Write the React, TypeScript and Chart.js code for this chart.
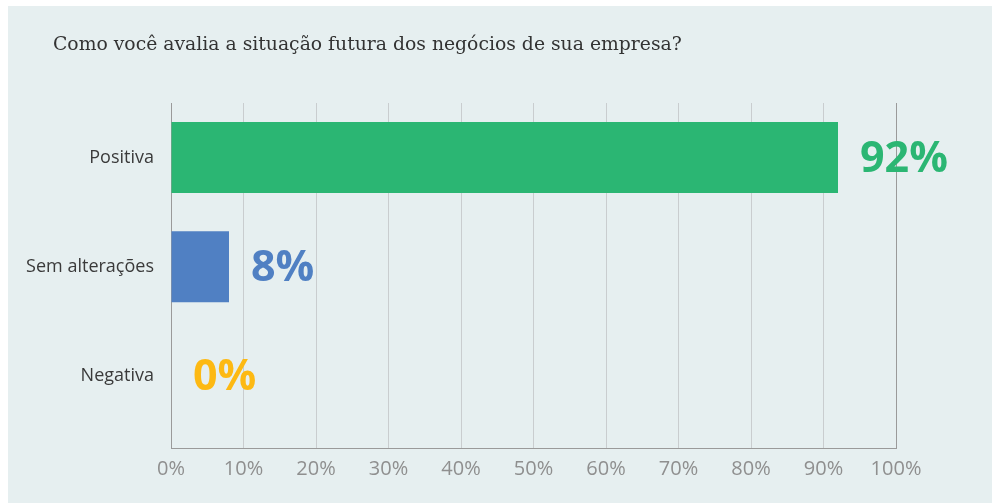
import { useEffect, useRef } from 'react';
import { Chart, registerables } from 'chart.js';

Chart.register(...registerables);

const titleText = 'Como você avalia a situação futura dos negócios de sua empresa?';
const categories = ['Positiva', 'Sem alterações', 'Negativa'];
const values = [92, 8, 0];
const barColors = ['#2bb673', '#5080c3', '#fdb913'];
const labelColors = ['#2bb673', '#5080c3', '#fdb913'];
const xMin = 0;
const xMax = 100;
const xStep = 10;

const valueLabels = {
  id: 'valueLabels',
  afterDatasetsDraw(chart: any) {
    const { ctx } = chart;
    const meta = chart.getDatasetMeta(0);
    ctx.save();
    ctx.font = 'bold 43px "Open Sans"';
    ctx.textAlign = 'left';
    ctx.textBaseline = 'middle';
    meta.data.forEach((bar: any, i: number) => {
      ctx.fillStyle = labelColors[i];
      ctx.fillText(values[i] + '%', bar.x + 22, bar.y + 2);
    });
    ctx.restore();
  },
};

const chartTitle = {
  id: 'chartTitle',
  afterDraw(chart: any) {
    const { ctx } = chart;
    ctx.save();
    ctx.font = '18.8px "DejaVu Serif"';
    ctx.fillStyle = '#333333';
    ctx.textAlign = 'left';
    ctx.textBaseline = 'middle';
    ctx.fillText(titleText, 45, 39);
    ctx.restore();
  },
};

export default function App() {
  const ref = useRef<HTMLCanvasElement | null>(null);

  useEffect(() => {
    if (!ref.current) return;
    const chart = new Chart(ref.current, {
      type: 'bar',
      data: {
        datasets: [
          {
            data: values.map((v, i) => ({ x: v, y: i })),
            backgroundColor: barColors,
            borderWidth: 0,
            barPercentage: 0.65,
            categoryPercentage: 1,
          },
        ],
      },
      options: {
        indexAxis: 'y',
        animation: false,
        responsive: false,
        maintainAspectRatio: false,
        layout: { padding: { left: 0, right: 96, top: 97, bottom: 0 } },
        plugins: {
          legend: { display: false },
          tooltip: { enabled: false },
          title: { display: false },
        },
        scales: {
          x: {
            type: 'linear',
            min: xMin,
            max: xMax,
            ticks: {
              stepSize: xStep,
              callback: (v: any) => v + '%',
              color: '#8f8f8f',
              font: { family: '"Open Sans"', size: 20 },
              padding: 9,
              maxRotation: 0,
            },
            grid: {
              drawTicks: false,
              color: (c: any) => (c.tick && c.tick.value === xMax ? '#9a9a9a' : '#c9cdcf'),
              lineWidth: 1,
            },
            border: { display: true, color: '#9a9a9a', width: 1 },
            afterFit: (s: any) => {
              s.height = 55;
            },
          },
          y: {
            type: 'linear',
            reverse: true,
            offset: false,
            min: -0.5,
            max: 2.66,
            afterBuildTicks: (axis: any) => {
              axis.ticks = categories.map((_, i) => ({ value: i }));
            },
            ticks: {
              callback: (v: any) => categories[v] ?? '',
              color: '#3a3a3a',
              font: { family: '"Open Sans"', size: 18 },
              padding: 17,
            },
            grid: { display: false, drawTicks: false, offset: false },
            border: { display: true, color: '#9a9a9a', width: 1 },
            afterFit: (s: any) => {
              s.width = 163;
            },
          },
        },
      },
      plugins: [valueLabels, chartTitle],
    } as any);
    return () => chart.destroy();
  }, []);

  return (
    <div style={{ position: 'absolute', left: 0, top: 0, width: 998, height: 503, background: '#ffffff', overflow: 'hidden' }}>
      <div style={{ position: 'absolute', left: 8, top: 6, width: 984, height: 497, background: '#e6eff0' }}>
        <canvas ref={ref} width={984} height={497} style={{ display: 'block', width: 984, height: 497 }} />
      </div>
    </div>
  );
}
